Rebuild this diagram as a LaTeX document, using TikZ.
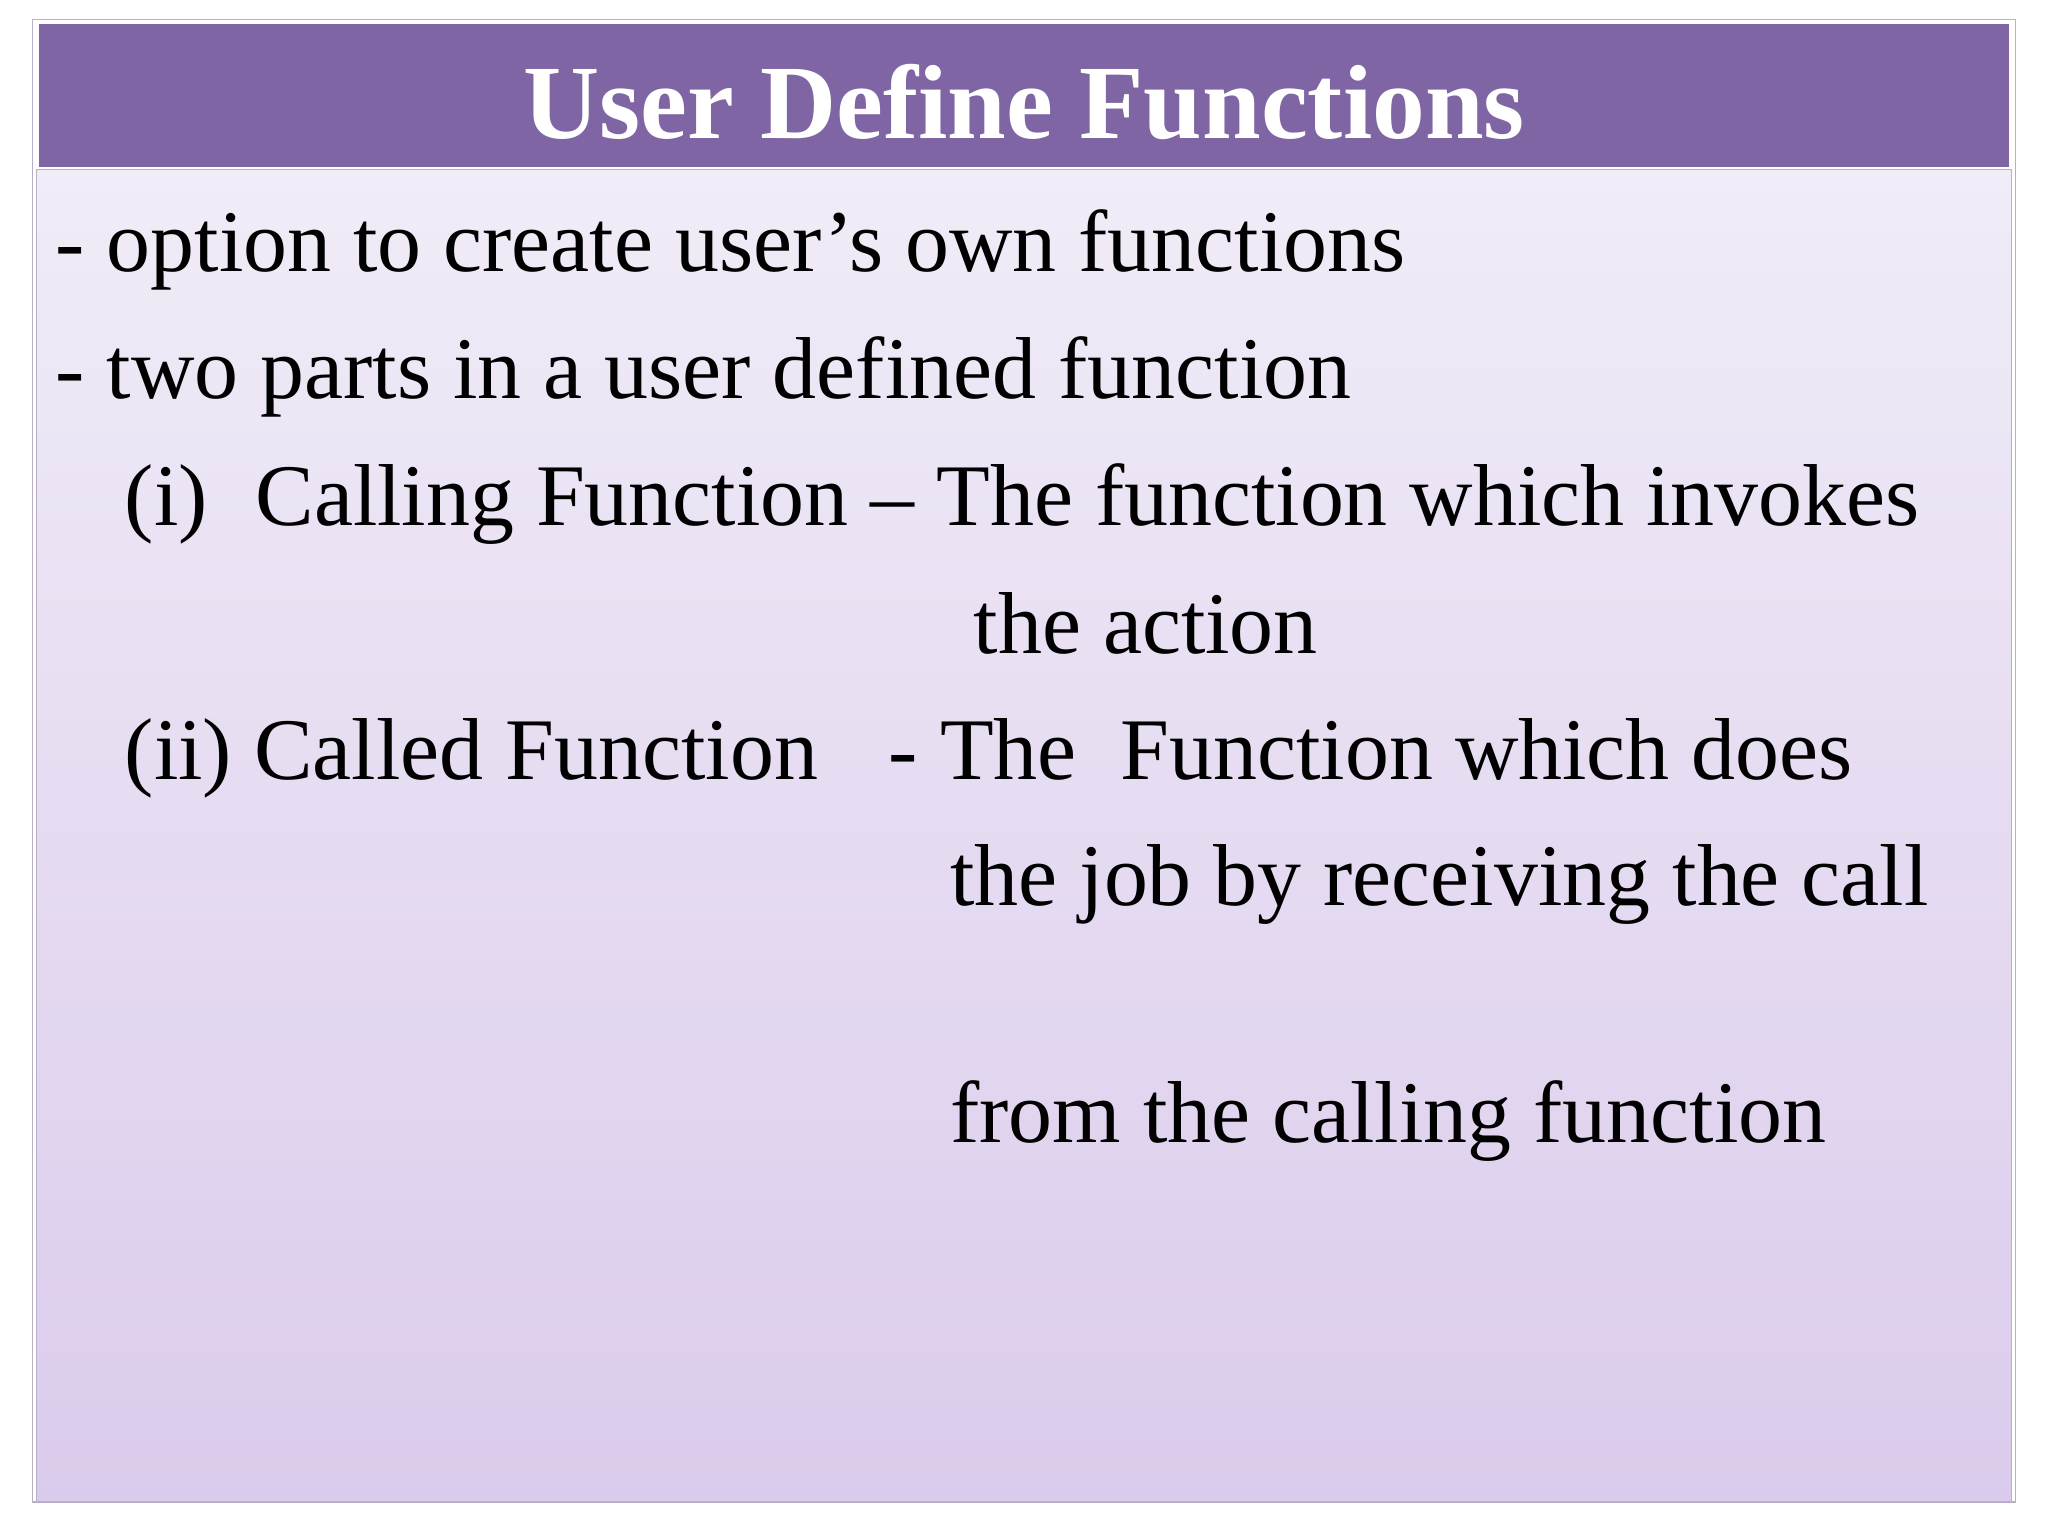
\documentclass[tikz,border=0pt]{standalone}
\usepackage{fontspec}
\setmainfont{Liberation Serif}
\usetikzlibrary{positioning}
\definecolor{titlepurple}{HTML}{7F65A3}
\definecolor{bodytop}{HTML}{F1ECF7}
\definecolor{bodybottom}{HTML}{DACBEC}
\definecolor{framegray}{HTML}{B8B0C4}
\begin{document}
\begin{tikzpicture}[x=0.01306cm,y=-0.01306cm]

\tikzset{bodytext/.style = {anchor=base west, inner sep=0pt, font=\fontsize{25}{30}\selectfont}}
\tikzset{titletext/.style = {text=white, font=\fontsize{30}{36}\selectfont\bfseries}}

% page and slide
\useasboundingbox[fill=white] (0,0) rectangle (1568,1176);
\draw[framegray, fill=white] (25,15) rectangle (1543,1150);
\shade[top color=bodytop, bottom color=bodybottom, draw=framegray] (28,130) rectangle (1540,1150);
\fill[titlepurple] (30,18) rectangle (1538,128);

% title
\node[titletext] (title) at (784,78) {User Define Functions};

% body
\node[bodytext] (opt) at (42,208) {- option to create user’s own functions};
\node[bodytext] (parts) at (42,305) {- two parts in a user defined function};
\node[bodytext] (one) at (95,402) {(i)};
\node[bodytext] (calling) at (195,402) {Calling Function – The function which invokes};
\node[bodytext] (action) at (745,500) {the action};
\node[bodytext] (two) at (95,597) {(ii) Called Function};
\node[bodytext] (does) at (680,597) {- The\ \ Function which does};
\node[bodytext] (job) at (727,693) {the job by receiving the call};
\node[bodytext] (from) at (727,875) {from the calling function};

\end{tikzpicture}
\end{document}
